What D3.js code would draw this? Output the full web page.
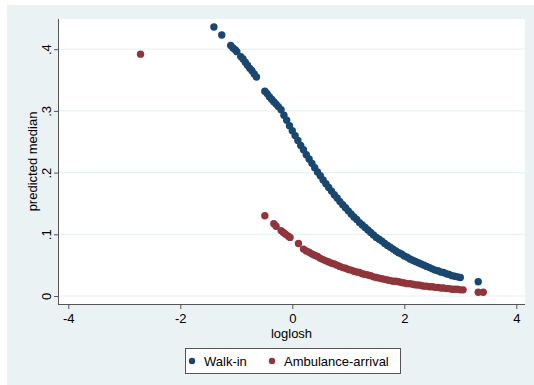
<!DOCTYPE html>
<html>
<head>
<meta charset="utf-8">
<script src="https://cdn.jsdelivr.net/npm/d3@7"></script>
<style>
  body { margin: 0; background: #fff; }
  svg { display: block; font-family: "Liberation Sans", Arial, sans-serif; }
</style>
</head>
<body>
<svg id="canvas" width="534" height="385"></svg>
<script>
// values: loglosh (x) and predicted median (y)
var walkX = [-1.40,-1.26,-1.10,-1.06,-1.02,-0.99,-0.92,-0.88,-0.84,-0.80,-0.76,-0.72,-0.68,-0.64,
  -0.49,-0.45,-0.41,-0.37,-0.33,-0.29,-0.25,
  -0.20,-0.15,-0.10,-0.05,0.00,0.05,0.10,0.15,0.20,0.25,0.30,0.35,0.40,0.45,0.50,0.55,0.60,0.65,
  0.70,0.75,0.80,0.85,0.90,0.95,1.00,1.05,1.10,1.15,1.20,1.25,1.30,1.35,1.40,1.45,1.50,1.55,1.60,
  1.65,1.70,1.75,1.80,1.85,1.90,1.95,2.00,2.05,2.10,2.15,2.20,2.25,2.30,2.35,2.40,2.45,2.50,2.55,
  2.60,2.65,2.70,2.75,2.80,2.85,2.90,2.95,3.00,3.32];
var walkY = [.436,.423,.406,.402,.399,.396,.388,.384,.379,.374,.369,.365,.360,.355,
  .332,.328,.323,.319,.315,.311,.307,
  .302,.293,.285,.276,.268,.260,.252,.244,.237,.229,.222,.215,.208,.201,.195,.188,.182,.176,
  .170,.164,.159,.153,.148,.143,.138,.133,.128,.124,.119,.115,.111,.107,.103,.099,.095,.092,.089,
  .085,.082,.079,.076,.073,.070,.068,.065,.063,.060,.058,.056,.054,.052,.050,.048,.046,.044,.042,
  .041,.039,.038,.036,.035,.033,.032,.031,.030,.023];

var ambX = [-2.71,-0.49,-0.33,-0.29,-0.20,-0.16,-0.12,-0.07,-0.04,0.11,
  0.20,0.25,0.30,0.35,0.40,0.45,0.50,0.55,0.60,0.65,0.70,0.75,0.80,0.85,0.90,0.95,1.00,1.05,1.10,
  1.15,1.20,1.25,1.30,1.35,1.40,1.45,1.50,1.55,1.60,1.65,1.70,1.75,1.80,1.85,1.90,1.95,2.00,2.05,
  2.10,2.15,2.20,2.25,2.30,2.35,2.40,2.45,2.50,2.55,2.60,2.65,2.70,2.75,2.80,2.85,2.90,2.95,3.00,
  3.05,3.32,3.41];
var ambY = [.392,.130,.117,.113,.106,.103,.100,.097,.095,.085,
  .076,.073,.071,.068,.066,.064,.061,.059,.057,.055,.053,.052,.050,.048,.046,.045,.043,.042,.040,
  .039,.038,.036,.035,.034,.033,.031,.030,.029,.028,.027,.026,.025,.024,.024,.023,.022,.021,.020,
  .020,.019,.018,.018,.017,.016,.016,.015,.015,.014,.014,.013,.013,.012,.012,.011,.011,.011,.010,
  .010,.006,.006];

var xTicks = [-4,-2,0,2,4];
var yTicks = [0,.1,.2,.3,.4];
var yTickLabels = ['0','.1','.2','.3','.4'];
var seriesNames = ['Walk-in','Ambulance-arrival'];
var seriesColors = ['#1a476f','#90353b'];

window.onload = function() {
    MakeChart();
}

function MakeChart(){
    var svg = d3.select('#canvas');

    // outer graph region
    svg.append('rect')
        .attr('x', 7).attr('y', 5)
        .attr('width', 527).attr('height', 380)
        .style('fill', '#eaf2f3');

    var x = d3.scaleLinear().domain([-4, 4]).range([68.3, 516.3]);
    var y = d3.scaleLinear().domain([0, .4]).range([296, 49.2]);

    var left = 59, right = 525, top = 19, bottom = 304;

    svg.append('rect')
        .attr('x', left).attr('y', top)
        .attr('width', right - left).attr('height', bottom - top)
        .style('fill', '#fff');

    // grid lines
    svg.append('g')
        .selectAll('line')
        .data(yTicks)
        .join('line')
        .attr('x1', left).attr('x2', right)
        .attr('y1', d => y(d)).attr('y2', d => y(d))
        .style('stroke', '#eaf2f3')
        .style('stroke-width', 1.2);

    // points
    var walk = walkX.map((d, i) => ({x: d, y: walkY[i]}));
    var amb = ambX.map((d, i) => ({x: d, y: ambY[i]}));

    svg.append('g')
        .selectAll('circle')
        .data(walk)
        .join('circle')
        .attr('cx', d => x(d.x))
        .attr('cy', d => y(d.y))
        .attr('r', 3.7)
        .style('fill', seriesColors[0]);

    svg.append('g')
        .selectAll('circle')
        .data(amb)
        .join('circle')
        .attr('cx', d => x(d.x))
        .attr('cy', d => y(d.y))
        .attr('r', 3.7)
        .style('fill', seriesColors[1]);

    // axes
    var xAxis = svg.append('g')
        .attr('transform', 'translate(0,' + bottom + ')')
        .call(d3.axisBottom(x).tickValues(xTicks).tickSize(5).tickSizeOuter(0).tickFormat(d => d));
    xAxis.select('.domain').attr('d', 'M' + left + ',0.5H' + right);
    xAxis.selectAll('text').attr('dy', '0.85em').style('font-size', '13px').style('fill', '#000');

    var yAxis = svg.append('g')
        .attr('transform', 'translate(' + left + ',0)')
        .call(d3.axisLeft(y).tickValues(yTicks).tickSize(5).tickSizeOuter(0).tickFormat((d, i) => yTickLabels[i]));
    yAxis.select('.domain').attr('d', 'M-0.5,' + top + 'V' + (bottom + 1));
    yAxis.selectAll('text')
        .attr('x', null).attr('dy', null).attr('y', 0)
        .attr('text-anchor', 'middle')
        .attr('transform', 'translate(-8,0) rotate(-90)')
        .style('font-size', '13px').style('fill', '#000');
    svg.selectAll('.domain').style('stroke', '#555');
    svg.selectAll('.tick line').style('stroke', '#555');

    svg.append('text')
        .attr('x', (left + right) / 2 - 0.5).attr('y', 338)
        .attr('text-anchor', 'middle')
        .style('font-size', '13px')
        .text('loglosh');

    svg.append('text')
        .attr('transform', 'translate(37,' + ((top + bottom) / 2) + ') rotate(-90)')
        .attr('text-anchor', 'middle')
        .style('font-size', '13px')
        .text('predicted median');

    // legend
    var lg = svg.append('g');
    lg.append('rect')
        .attr('x', 185.5).attr('y', 348.5)
        .attr('width', 215).attr('height', 25)
        .style('fill', '#fff').style('stroke', '#555');
    var items = [{n: seriesNames[0], c: seriesColors[0], cx: 192, tx: 204},
                 {n: seriesNames[1], c: seriesColors[1], cx: 272, tx: 284}];
    lg.selectAll('circle').data(items).join('circle')
        .attr('cx', d => d.cx).attr('cy', 361).attr('r', 3.2)
        .style('fill', d => d.c);
    lg.selectAll('text').data(items).join('text')
        .attr('x', d => d.tx).attr('y', 366)
        .style('font-size', '13px')
        .text(d => d.n);
}
</script>
</body>
</html>
